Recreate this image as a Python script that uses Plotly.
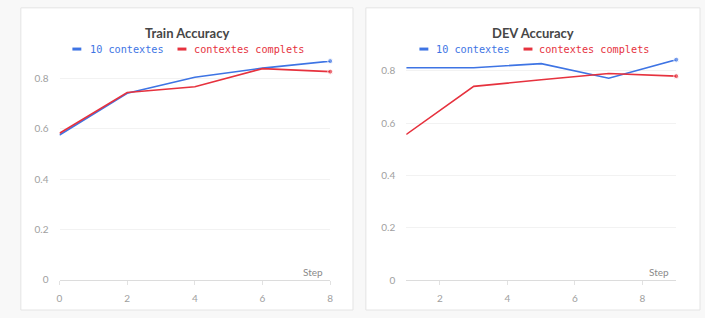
import plotly.graph_objects as go

# ---- data ----
train_steps = [0, 2, 4, 6, 8]
train_10ctx = [0.576, 0.742, 0.806, 0.842, 0.870]
train_full = [0.583, 0.745, 0.768, 0.840, 0.828]

dev_steps = [1, 3, 5, 7, 9]
dev_10ctx = [0.812, 0.812, 0.828, 0.772, 0.843]
dev_full = [0.557, 0.741, 0.766, 0.790, 0.780]

series_names = ["10 contextes", "contextes complets"]
titles = ["Train Accuracy", "DEV Accuracy"]
y_ticks = [0, 0.2, 0.4, 0.6, 0.8]
y_ticklabels = ["0", "0.2", "0.4", "0.6", "0.8"]
train_xticks = [0, 2, 4, 6, 8]
dev_xticks = [2, 4, 6, 8]

BLUE = "#3e74e4"
RED = "#e6323e"
W, H = 705, 318


def px(x):
    return x / W


def py(y):
    return 1 - y / H


fig = go.Figure()


def end_marker(n):
    return [0] * (n - 1) + [5]


for xs, ys, color, name, xa, ya in [
    (train_steps, train_10ctx, BLUE, series_names[0], "x", "y"),
    (train_steps, train_full, RED, series_names[1], "x", "y"),
    (dev_steps, dev_10ctx, BLUE, series_names[0], "x2", "y2"),
    (dev_steps, dev_full, RED, series_names[1], "x2", "y2"),
]:
    fig.add_trace(go.Scatter(
        x=xs, y=ys, mode="lines+markers", name=name,
        line=dict(color=color, width=1.6),
        marker=dict(color=color, size=end_marker(len(xs))),
        xaxis=xa, yaxis=ya, cliponaxis=False, showlegend=False,
    ))

tickfont = dict(family="Lato, sans-serif", size=10, color="#a0a0a0")
common_x = dict(showgrid=False, zeroline=False, showline=True, linecolor="#dcdcdc",
                ticks="outside", ticklen=4, tickcolor="#e2e2e2", tickfont=tickfont,
                ticklabelstandoff=5)
common_y = dict(showgrid=True, gridcolor="#f2f2f2", zeroline=False, showline=False,
                tickvals=y_ticks, ticktext=y_ticklabels, tickfont=tickfont,
                ticks="", ticklabelstandoff=10)

fig.update_layout(
    width=W, height=H,
    margin=dict(l=0, r=0, t=0, b=0),
    paper_bgcolor="#f8f8f8",
    plot_bgcolor="rgba(0,0,0,0)",
    xaxis=dict(domain=[px(57), px(330)], range=[0, 8], tickvals=train_xticks,
               anchor="y", **common_x),
    yaxis=dict(domain=[py(285), py(285 - 0.870 * 256)], range=[0, 0.870],
               anchor="x", **common_y),
    xaxis2=dict(domain=[px(406.7), px(679)], range=[1, 9], tickvals=dev_xticks,
                anchor="y2", **common_x),
    yaxis2=dict(domain=[py(285.5), py(285.5 - 0.843 * 266.5)], range=[0, 0.843],
                anchor="x2", **common_y),
)

# cards
for x0, x1 in [(18, 353), (366, 703)]:
    fig.add_shape(type="rect", xref="paper", yref="paper", layer="below",
                  x0=px(x0), x1=px(x1), y0=py(316), y1=py(8),
                  fillcolor="white", line=dict(color="#e4e4e4", width=1))

# titles
for cx, t in [(185.5, titles[0]), (534.5, titles[1])]:
    fig.add_annotation(xref="paper", yref="paper", x=px(cx), y=py(34),
                       text="<b>" + t + "</b>", showarrow=False,
                       xanchor="center", yanchor="middle",
                       font=dict(family="Lato, sans-serif", size=13, color="#464646"))

# legends
legend_font = "DejaVu Sans Mono, monospace"
for icon_x, text_x, color, name in [
    (70, 86, BLUE, series_names[0]),
    (176, 191, RED, series_names[1]),
    (420, 435, BLUE, series_names[0]),
    (525, 539, RED, series_names[1]),
]:
    fig.add_shape(type="line", xref="paper", yref="paper",
                  x0=px(icon_x), x1=px(icon_x + 9), y0=py(50), y1=py(50),
                  line=dict(color=color, width=3))
    fig.add_annotation(xref="paper", yref="paper", x=px(text_x), y=py(50),
                       text=name, showarrow=False, xanchor="left", yanchor="middle",
                       font=dict(family=legend_font, size=10.2, color=color))

# axis names
for sx in [325, 674]:
    fig.add_annotation(xref="paper", yref="paper", x=px(sx), y=py(277),
                       text="Step", showarrow=False, xanchor="right", yanchor="middle",
                       font=dict(family="Lato, sans-serif", size=10, color="#8a8a8a"))

fig.write_html(
    "out.html",
    config={"displayModeBar": False},
    post_script="document.body.style.margin='0';document.body.style.overflow='hidden';",
)
